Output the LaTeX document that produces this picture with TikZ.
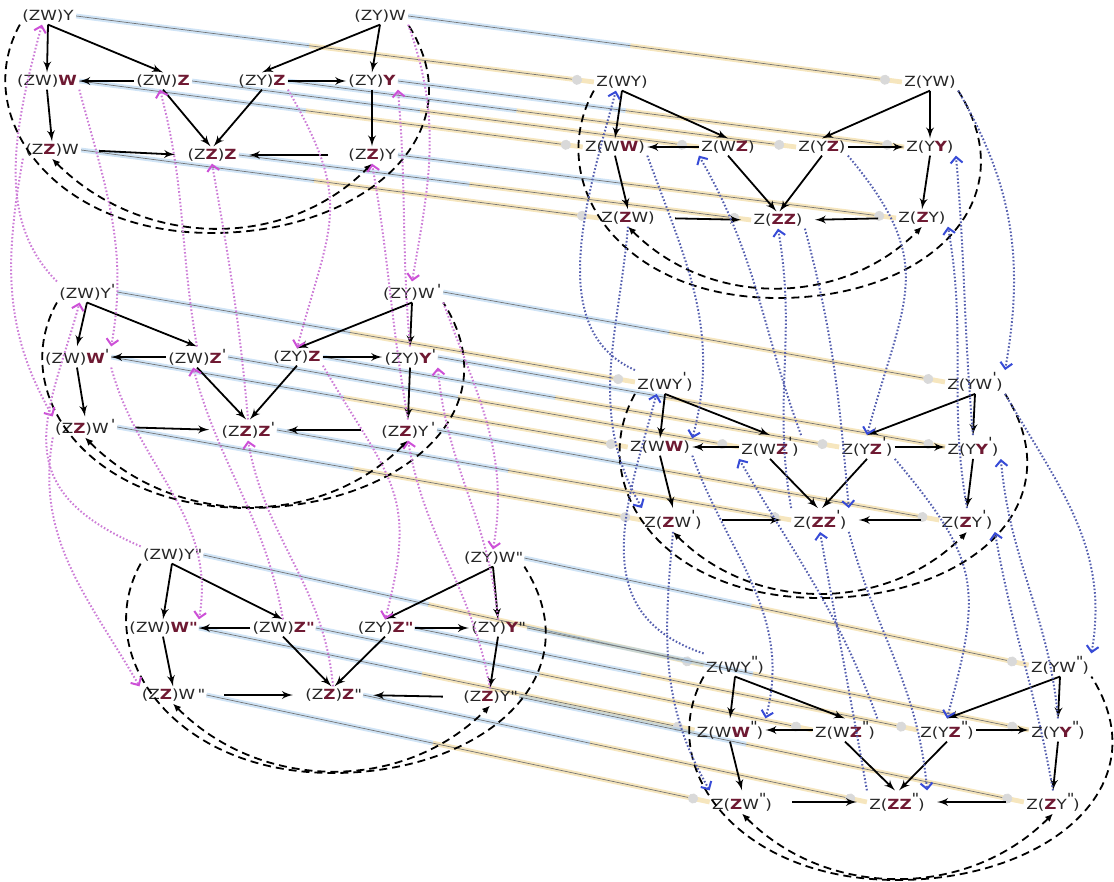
\documentclass[tikz,border=0pt]{standalone}
\usepackage{fontspec}
\newfontfamily\lblfont[FakeStretch=1.2]{DejaVu Sans}
\usetikzlibrary{arrows,arrows.meta,calc,backgrounds}
\definecolor{hlred}{RGB}{110,25,50}
\definecolor{pinkln}{RGB}{205,125,215}
\definecolor{pinktip}{RGB}{205,80,215}
\definecolor{blueln}{RGB}{85,95,175}
\definecolor{bluetip}{RGB}{55,75,215}
\definecolor{haloblue}{RGB}{150,195,235}
\definecolor{halogold}{RGB}{235,200,110}
\newcommand{\hb}[1]{\textcolor{hlred}{\bfseries #1}}
\newcommand{\p}{\raisebox{0.3em}{\scriptsize\textquotesingle}}
\newcommand{\pp}{\textquotedbl}
\newcommand{\rp}{\raisebox{0.5em}{\scriptsize\textquotesingle}}
\newcommand{\rpp}{\raisebox{0.45em}{\scriptsize\textquotedbl}}

\begin{document}
\begin{tikzpicture}[x=0.5pt,y=0.5pt]
\tikzset{lbl/.style = {font=\lblfont\fontsize{7pt}{8pt}\selectfont, inner sep=1pt, text=black!85}}
\tikzset{edge/.style = {->, > = latex', line width=0.9pt}}
\tikzset{bigloop/.style = {line width=0.9pt, dash pattern=on 4pt off 2.5pt}}
\tikzset{innerloop/.style = {bigloop, {Latex[length=4pt,width=3.5pt]}-{Latex[length=4pt,width=3.5pt]}}}
\tikzset{pinkarc/.style = {draw=pinkln, line width=1pt, dash pattern=on 0.8pt off 1pt, -{Straight Barb[length=3pt,width=6pt,color=pinktip]}}}
\tikzset{bluearc/.style = {draw=blueln, line width=1pt, dash pattern=on 0.8pt off 1pt, -{Straight Barb[length=3pt,width=6pt,color=bluetip]}}}
\tikzset{halob/.style = {draw=haloblue, line width=2.4pt, opacity=0.45}}
\tikzset{halog/.style = {draw=halogold, line width=2.4pt, opacity=0.45}}
\tikzset{linkln/.style = {draw=black!55, line width=0.35pt, shorten >=6pt, -{Circle[length=5pt,color=black!15]}}}
\useasboundingbox (0,0) rectangle (1114,-882);

\node[lbl] (L1a) at (48,-16) {(ZW)Y};
\node[lbl] (L1b) at (380,-16) {(ZY)W};
\node[lbl] (L1ww) at (47,-81) {(ZW)\hb{W}};
\node[lbl] (L1wz) at (163,-81) {(ZW)\hb{Z}};
\node[lbl] (L1yz) at (262,-81) {(ZY)\hb{Z}};
\node[lbl] (L1yy) at (372,-81) {(ZY)\hb{Y}};
\node[lbl] (L1zw) at (52,-150) {(Z\hb{Z})W};
\node[lbl] (L1zz) at (212,-155) {(Z\hb{Z})\hb{Z}};
\node[lbl] (L1zy) at (372,-155) {(Z\hb{Z})Y};

\node[lbl] (L2a) at (87,-292) {(ZW)Y\p};
\node[lbl] (L2b) at (412,-292) {(ZY)W\,\p};
\node[lbl] (L2ww) at (77,-357) {(ZW)\hb{W}\p};
\node[lbl] (L2wz) at (197,-357) {(ZW)\hb{Z}\p};
\node[lbl] (L2yz) at (297,-357) {(ZY)\hb{Z}};
\node[lbl] (L2yy) at (410,-357) {(ZY)\hb{Y}\p};
\node[lbl] (L2zw) at (85,-427) {(Z\hb{Z})W\,\p};
\node[lbl] (L2zz) at (248,-430) {(Z\hb{Z})\hb{Z}\p};
\node[lbl] (L2zy) at (408,-430) {(Z\hb{Z})Y\,\p};

\node[lbl] (L3a) at (172,-555) {(ZW)Y\pp};
\node[lbl] (L3b) at (493,-558) {(ZY)W\pp};
\node[lbl] (L3ww) at (163,-628) {(ZW)\hb{W\pp}};
\node[lbl] (L3wz) at (283,-628) {(ZW)\hb{Z\pp}};
\node[lbl] (L3yz) at (385,-628) {(ZY)\hb{Z\pp}};
\node[lbl] (L3yy) at (498,-628) {(ZY)\hb{Y}\pp};
\node[lbl] (L3zw) at (173,-695) {(Z\hb{Z})W\,\pp};
\node[lbl] (L3zz) at (333,-695) {(Z\hb{Z})\hb{Z}\pp};
\node[lbl] (L3zy) at (490,-697) {(Z\hb{Z})Y\pp};

\node[lbl] (R1a) at (622,-82) {Z(WY)};
\node[lbl] (R1b) at (930,-82) {Z(YW)};
\node[lbl] (R1ww) at (615,-147) {Z(W\hb{W})};
\node[lbl] (R1wz) at (728,-147) {Z(W\hb{Z})};
\node[lbl] (R1yz) at (822,-147) {Z(Y\hb{Z})};
\node[lbl] (R1yy) at (930,-147) {Z(Y\hb{Y})};
\node[lbl] (R1zw) at (628,-218) {Z(\hb{Z}W)};
\node[lbl] (R1zz) at (778,-220) {Z(\hb{ZZ})};
\node[lbl] (R1zy) at (922,-218) {Z(\hb{Z}Y)};

\node[lbl] (R2a) at (665,-382) {Z(WY\rp)};
\node[lbl] (R2b) at (975,-382) {Z(YW\rp)};
\node[lbl] (R2ww) at (660,-447) {Z(W\hb{W})};
\node[lbl] (R2wz) at (770,-447) {Z(W\hb{Z}\rp)};
\node[lbl] (R2yz) at (867,-447) {Z(Y\hb{Z}\rp)};
\node[lbl] (R2yy) at (973,-447) {Z(Y\hb{Y}\rp)};
\node[lbl] (R2zw) at (673,-520) {Z(\hb{Z}W\rp)};
\node[lbl] (R2zz) at (820,-520) {Z(\hb{ZZ}\rp)};
\node[lbl] (R2zy) at (967,-520) {Z(\hb{Z}Y\rp)};

\node[lbl] (R3a) at (735,-665) {Z(WY\rpp)};
\node[lbl] (R3b) at (1060,-665) {Z(YW\rpp)};
\node[lbl] (R3ww) at (730,-730) {Z(W\hb{W}\rpp)};
\node[lbl] (R3wz) at (845,-730) {Z(W\hb{Z}\rpp)};
\node[lbl] (R3yz) at (947,-730) {Z(Y\hb{Z}\rpp)};
\node[lbl] (R3yy) at (1058,-730) {Z(Y\hb{Y}\rpp)};
\node[lbl] (R3zw) at (742,-802) {Z(\hb{Z}W\rpp)};
\node[lbl] (R3zz) at (897,-802) {Z(\hb{ZZ}\rpp)};
\node[lbl] (R3zy) at (1053,-802) {Z(\hb{Z}Y\rpp)};

\foreach \s in {L1,L2,L3,R1,R2,R3} {
  \draw[edge] (\s a.south) -- (\s ww.north);
  \draw[edge] (\s a.south) -- (\s wz.north);
  \draw[edge] (\s b.south) -- (\s yz.north);
  \draw[edge] (\s b.south) -- (\s yy.north);
  \draw[edge] (\s wz.west) -- (\s ww.east);
  \draw[edge] (\s yz.east) -- (\s yy.west);
  \draw[edge] (\s ww.south) -- (\s zw.north);
  \draw[edge] (\s yy.south) -- (\s zy.north);
  \draw[edge] (\s wz.south) -- (\s zz.100);
  \draw[edge] (\s yz.south) -- (\s zz.80);
  \draw[edge, shorten <=9pt, shorten >=5pt] (\s zw.east) -- (\s zz.west);
  \draw[edge, shorten <=9pt, shorten >=5pt] (\s zy.west) -- (\s zz.east);
  \draw[bigloop] (\s a.south west) .. controls +(-50,-90) and +(-160,0) .. ($(\s zz)+(0,-78)$)
    .. controls +(150,0) and +(70,-110) .. (\s b.south east);
  \draw[innerloop] (\s zw.south) to[out=-45,in=-135] (\s zy.south);
}

\foreach \i/\j/\dx in {1/2/-60,2/3/-140} {
  \draw[pinkarc] (L\i b.south east) to[out=-70,in=80] (L\j b.north);
  \draw[pinkarc] (L\i ww.south east) to[out=-75,in=80] (L\j ww.north east);
  \draw[pinkarc] (L\i zw.south west) to[out=-100,in=120] (L\j zw.north west);
  \draw[pinkarc] (L\i yz.south east) to[out=-60,in=75,looseness=1.3] (L\j yz.north);
  \draw[pinkarc] (L\j a.north west) .. controls +(\dx,60) and +(-30,-110) .. (L\i a.235);
  \draw[pinkarc] (L\j wz.north) to[out=100,in=-75] (L\i wz.250);
  \draw[pinkarc] (L\j zz.north) to[out=95,in=-80] (L\i zz.south);
  \draw[pinkarc] (L\j yy.north) to[out=95,in=-85] (L\i yy.south east);
  \draw[pinkarc] (L\j zy.north) to[out=100,in=-80] (L\i zy.south);
}

\foreach \i/\j/\dx in {1/2/-90,2/3/-120} {
  \draw[bluearc] (R\i b.south east) to[out=-60,in=80] (R\j b.north east);
  \draw[bluearc] (R\i ww.south east) to[out=-70,in=75] (R\j ww.north east);
  \draw[bluearc] (R\i zw.south) to[out=-95,in=120] (R\j zw.north west);
  \draw[bluearc] (R\i yz.south east) to[out=-50,in=75,looseness=1.3] (R\j yz.north);
  \draw[bluearc] (R\i zz.south east) to[out=-75,in=95] (R\j zz.north east);
  \draw[bluearc] (R\j a.north west) .. controls +(\dx,40) and +(-30,-110) .. (R\i a.235);
  \draw[bluearc] (R\j wz.north east) to[out=110,in=-60] (R\i wz.south west);
  \draw[bluearc] (R\j zz.north west) to[out=100,in=-80] (R\i zz.south);
  \draw[bluearc] (R\j yy.north) to[out=95,in=-85] (R\i yy.south east);
  \draw[bluearc] (R\j zy.north) to[out=100,in=-80] (R\i zy.south east);
}

\begin{scope}[on background layer]
\foreach \i in {1,2,3} {
  \foreach \n in {a,b,ww,wz,yz,yy,zw,zz,zy} {
    \draw[halob] (L\i\n.east) -- ($(L\i\n.east)!0.45!(R\i\n.west)$);
    \draw[halog] ($(L\i\n.east)!0.45!(R\i\n.west)$) -- (R\i\n.west);
    \draw[linkln] (L\i\n.east) -- (R\i\n.west);
  }
}
\end{scope}
\end{tikzpicture}
\end{document}
